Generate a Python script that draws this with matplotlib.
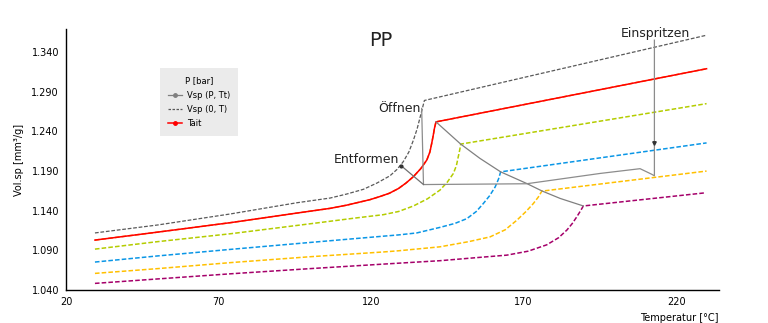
import matplotlib
matplotlib.use("Agg")
from matplotlib import pyplot as plt
from matplotlib.lines import Line2D

plt.rcParams['font.family'] = ['DejaVu Sans']

# pvT-Daten PP: Temperatur [°C] / spez. Volumen
t_0bar = [29.5, 50, 74, 95.6, 106.6, 112, 117.5, 122, 126.2, 128.5, 130.6, 132.4,
          133.9, 135.1, 136.1, 136.9, 137.5, 229.7]
v_0bar = [1.112, 1.122, 1.136, 1.150, 1.156, 1.161, 1.167, 1.175, 1.184, 1.192, 1.202, 1.214,
          1.229, 1.243, 1.258, 1.270, 1.279, 1.361]

t_tait = [29.5, 50, 74, 95.6, 106.6, 112, 119.7, 123, 126, 129, 131.5, 133.9, 136.3,
          138.3, 139.3, 139.9, 140.4, 140.8, 141.3, 230.0]
v_tait = [1.103, 1.113, 1.125, 1.137, 1.143, 1.147, 1.154, 1.158, 1.162, 1.168, 1.175, 1.183, 1.193,
          1.204, 1.214, 1.225, 1.235, 1.244, 1.252, 1.319]

t_p2 = [29.5, 50, 74, 101, 115.3, 124, 129, 133.9, 138.5, 142.6, 145, 147, 148, 148.6,
        149.1, 149.4, 230.0]
v_p2 = [1.0916, 1.101, 1.111, 1.124, 1.131, 1.135, 1.139, 1.146, 1.155, 1.166, 1.176, 1.187, 1.197, 1.208,
        1.217, 1.224, 1.275]

t_p3 = [29.5, 50, 74, 100, 124.3, 129, 135, 142.6, 147.5, 151.4, 154.5, 156.8, 158.9,
        160.7, 161.8, 162.5, 230.0]
v_p3 = [1.0753, 1.083, 1.0913, 1.100, 1.108, 1.1095, 1.112, 1.119, 1.124, 1.130, 1.139, 1.149, 1.159,
        1.170, 1.180, 1.189, 1.2255]

t_p4 = [29.5, 50, 74, 100, 124, 129, 142.6, 152, 159, 164, 167.8, 170.8, 173.2, 174.8,
        176.0, 230.0]
v_p4 = [1.061, 1.067, 1.0746, 1.082, 1.088, 1.0895, 1.0945, 1.101, 1.107, 1.116, 1.128, 1.139, 1.149, 1.157,
        1.1647, 1.190]

t_p5 = [29.5, 50, 74, 100, 124, 142.6, 155, 164.5, 171.5, 177.6, 181.5, 184.2, 186, 187.4,
        188.7, 189.6, 229.4]
v_p5 = [1.0484, 1.054, 1.0605, 1.067, 1.0727, 1.077, 1.081, 1.084, 1.089, 1.097, 1.106, 1.1156, 1.124, 1.132,
        1.140, 1.146, 1.1625]

# Übergangslinie durch die Knickpunkte
t_trans = [141.3, 149.4, 155.7, 162.5, 171.0, 176.0, 182.0, 189.6]
v_trans = [1.252, 1.224, 1.206, 1.189, 1.1744, 1.165, 1.1555, 1.146]

# Prozessverlauf Vsp (P, Tt)
t_proc = [212.9, 212.9, 212.9, 212.9, 212.0, 208.2, 195.1, 171.0, 137.2, 136.6]
v_proc = [1.355, 1.226, 1.190, 1.184, 1.186, 1.193, 1.187, 1.174, 1.173, 1.269]
t_entf = [137.2, 129.8]
v_entf = [1.173, 1.197]

dash = (0, (3, 1.4))

fig = plt.figure(figsize=(7.68, 3.23), dpi=100)
ax = fig.add_axes([0.0859, 0.102, 0.850, 0.808])

ax.plot(t_0bar, v_0bar, color='#5a5a5a', lw=0.9, linestyle=dash)
ax.plot(t_p2, v_p2, color='#b4cc00', lw=1.1, linestyle=dash)
ax.plot(t_p3, v_p3, color='#0a96e6', lw=1.1, linestyle=dash)
ax.plot(t_p4, v_p4, color='#ffc000', lw=1.1, linestyle=dash)
ax.plot(t_p5, v_p5, color='#a5006a', lw=1.1, linestyle=dash)
ax.plot(t_tait, v_tait, color='#ff8000', lw=1.1, linestyle=dash)
ax.plot(t_tait, v_tait, color='#ff0000', lw=1.1)

ax.plot(t_trans, v_trans, color='#808080', lw=0.9)
ax.plot(t_proc, v_proc, color='#8c8c8c', lw=0.9)
ax.plot(t_entf, v_entf, color='#707070', lw=0.9)
ax.plot([t_proc[1]], [v_proc[1]], marker='v', color='#333333', markersize=2.5)
ax.plot([t_entf[1]], [v_entf[1]], marker='o', color='#333333', markersize=2)

ax.text(123.3, 1.355, 'PP', fontsize=14, ha='center', va='center', color='#222222')
ax.text(129.3, 1.269, 'Öffnen', fontsize=9, ha='center', va='center', color='#222222')
ax.text(118.4, 1.205, 'Entformen', fontsize=9, ha='center', va='center', color='#222222')
ax.text(213.1, 1.364, 'Einspritzen', fontsize=9, ha='center', va='center', color='#222222')

ax.set_xlim(20, 234)
ax.set_ylim(1.040, 1.369)
ax.set_xticks([20, 70, 120, 170, 220])
ax.set_yticks([1.040, 1.090, 1.140, 1.190, 1.240, 1.290, 1.340])
ax.set_yticklabels(['{:.3f}'.format(v) for v in ax.get_yticks()])
ax.tick_params(length=0, labelsize=7, pad=5)
for s in ['top', 'right']:
    ax.spines[s].set_visible(False)
ax.spines['left'].set_linewidth(1.0)
ax.spines['bottom'].set_linewidth(1.0)

ax.set_xlabel('Temperatur [°C]', fontsize=7, loc='right', labelpad=4)
ax.set_ylabel('Vol.sp [mm³/g]', fontsize=7, labelpad=5)

handles = [
    Line2D([], [], color='#808080', lw=0.9, marker='o', markersize=2.5),
    Line2D([], [], color='#5a5a5a', lw=0.9, linestyle=(0, (2, 1.2))),
    Line2D([], [], color='#ff0000', lw=1.1, marker='o', markersize=2.5),
]
leg = ax.legend(handles, ['Vsp (P, Tt)', 'Vsp (0, T)', 'Tait'], title='P [bar]',
                loc='upper left', bbox_to_anchor=(0.144, 0.85), borderaxespad=0,
                fontsize=6, title_fontsize=6, frameon=True, fancybox=False,
                handlelength=1.6, handletextpad=0.6, borderpad=1.0, labelspacing=0.6)
leg.get_frame().set_facecolor('#ebebeb')
leg.get_frame().set_edgecolor('none')
leg.get_frame().set_alpha(1)

fig.savefig('out.png', dpi=100)
